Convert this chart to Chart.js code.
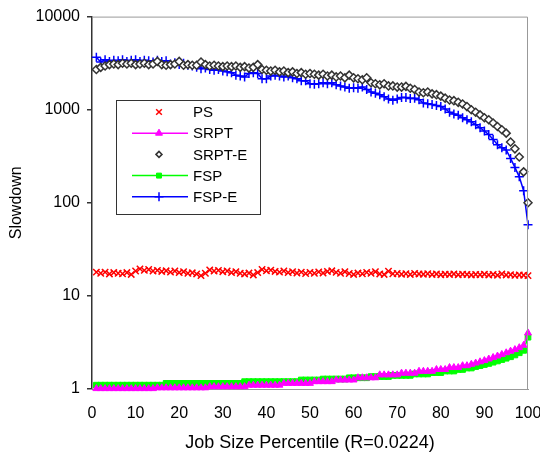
<!DOCTYPE html>
<html>
<head>
<meta charset="utf-8">
<script src="https://cdn.jsdelivr.net/npm/chart.js@4/dist/chart.umd.min.js"></script>
<style>
	html, body { margin: 0; padding: 0; background: #fff; }
	#main_chart { display: block; }
</style>
</head>
<body>
<canvas id="main_chart" width="540" height="457"></canvas>
<script>
// job size percentiles (x)
const percentiles = [
	1, 2, 3, 4, 5, 6, 7, 8, 9, 10,
	11, 12, 13, 14, 15, 16, 17, 18, 19, 20,
	21, 22, 23, 24, 25, 26, 27, 28, 29, 30,
	31, 32, 33, 34, 35, 36, 37, 38, 39, 40,
	41, 42, 43, 44, 45, 46, 47, 48, 49, 50,
	51, 52, 53, 54, 55, 56, 57, 58, 59, 60,
	61, 62, 63, 64, 65, 66, 67, 68, 69, 70,
	71, 72, 73, 74, 75, 76, 77, 78, 79, 80,
	81, 82, 83, 84, 85, 86, 87, 88, 89, 90,
	91, 92, 93, 94, 95, 96, 97, 98, 99, 100,
]

const psValues = [
	18.0, 17.5, 18.0, 17.2, 17.8, 17.5, 17.3, 17.8, 17.0, 18.5,
	19.5, 18.8, 19.2, 18.5, 18.8, 18.3, 18.6, 18.0, 18.5, 17.8,
	18.2, 17.5, 17.7, 17.2, 16.5, 17.5, 19.0, 18.5, 18.8, 18.2,
	18.5, 17.8, 18.2, 17.5, 17.2, 17.6, 16.8, 17.8, 19.2, 18.6,
	18.9, 18.3, 18.0, 18.5, 17.8, 18.2, 17.6, 18.0, 17.4, 17.9,
	17.5, 18.1, 17.6, 18.3, 18.6, 17.9, 17.5, 18.2, 17.4, 17.0,
	17.6, 17.3, 17.9, 17.5, 18.2, 17.2, 17.0, 18.4, 17.3, 17.4,
	17.1, 17.3, 17.0, 17.4, 17.2, 17.1, 17.3, 17.0, 17.2, 16.9,
	17.1, 17.0, 17.2, 16.9, 17.1, 17.0, 16.8, 17.0, 16.9, 17.1,
	16.8, 17.0, 16.7, 17.2, 16.8, 16.9, 16.6, 16.8, 16.7, 16.5,
]

const srptValues = [
	1.01, 1.01, 1.01, 1.01, 1.01, 1.01, 1.01, 1.01, 1.01, 1.01,
	1.01, 1.01, 1.01, 1.01, 1.03, 1.03, 1.03, 1.03, 1.03, 1.03,
	1.03, 1.03, 1.03, 1.03, 1.03, 1.03, 1.06, 1.06, 1.06, 1.06,
	1.06, 1.06, 1.06, 1.06, 1.06, 1.10, 1.10, 1.10, 1.10, 1.10,
	1.10, 1.10, 1.10, 1.15, 1.15, 1.15, 1.15, 1.15, 1.15, 1.15,
	1.20, 1.20, 1.20, 1.20, 1.20, 1.25, 1.25, 1.25, 1.25, 1.25,
	1.32, 1.32, 1.32, 1.32, 1.32, 1.42, 1.42, 1.42, 1.42, 1.42,
	1.48, 1.48, 1.48, 1.48, 1.55, 1.55, 1.55, 1.55, 1.62, 1.62,
	1.62, 1.70, 1.70, 1.70, 1.78, 1.78, 1.84, 1.90, 1.96, 2.02,
	2.10, 2.18, 2.26, 2.35, 2.45, 2.55, 2.65, 2.78, 2.95, 4.00,
]

const srptEValues = [
	2700, 2850, 2950, 3050, 3100, 3050, 3150, 3100, 3150, 3050,
	3100, 3150, 3050, 3100, 3300, 3050, 3000, 3050, 3100, 3300,
	3000, 3050, 3000, 3000, 3250, 3050, 2950, 3000, 2950, 2900,
	2950, 2900, 2950, 2850, 2900, 2800, 2850, 3050, 2700, 2650,
	2600, 2650, 2550, 2600, 2500, 2550, 2450, 2500, 2400, 2450,
	2400, 2350, 2400, 2300, 2350, 2250, 2300, 2200, 2350, 2200,
	2150, 2100, 2200, 1950, 1900, 1850, 1900, 1800, 1800, 1750,
	1750, 1780, 1700, 1650, 1550, 1520, 1550, 1480, 1450, 1400,
	1330, 1270, 1250, 1200, 1150, 1080, 1000, 940, 880, 820,
	780, 720, 660, 610, 560, 450, 380, 310, 215, 100,
]

const fspValues = [
	1.10, 1.10, 1.10, 1.10, 1.10, 1.10, 1.10, 1.10, 1.10, 1.10,
	1.10, 1.10, 1.10, 1.10, 1.10, 1.10, 1.15, 1.15, 1.15, 1.15,
	1.15, 1.15, 1.15, 1.15, 1.15, 1.15, 1.15, 1.15, 1.15, 1.15,
	1.15, 1.15, 1.15, 1.15, 1.20, 1.20, 1.20, 1.20, 1.20, 1.20,
	1.20, 1.20, 1.20, 1.20, 1.20, 1.20, 1.20, 1.25, 1.25, 1.25,
	1.25, 1.25, 1.28, 1.28, 1.28, 1.28, 1.28, 1.28, 1.32, 1.32,
	1.32, 1.32, 1.32, 1.36, 1.36, 1.36, 1.36, 1.36, 1.40, 1.40,
	1.40, 1.40, 1.40, 1.45, 1.45, 1.45, 1.45, 1.50, 1.50, 1.50,
	1.56, 1.56, 1.56, 1.62, 1.62, 1.68, 1.68, 1.74, 1.78, 1.83,
	1.88, 1.94, 2.00, 2.07, 2.14, 2.22, 2.32, 2.45, 2.60, 3.60,
]

const fspEValues = [
	3650, 3250, 3450, 3300, 3400, 3350, 3450, 3300, 3400, 3450,
	3300, 3400, 3350, 3250, 3400, 3300, 3350, 3100, 3200, 3050,
	3150, 3000, 2950, 2850, 2750, 2800, 2700, 2650, 2700, 2600,
	2550, 2500, 2350, 2300, 2250, 2450, 2500, 2450, 2150, 2150,
	2300, 2350, 2300, 2250, 2300, 2200, 2150, 2050, 2050, 1900,
	1880, 1900, 1950, 1900, 1950, 1850, 1800, 1750, 1700, 1720,
	1700, 1750, 1650, 1550, 1500, 1450, 1380, 1300, 1260, 1300,
	1350, 1350, 1320, 1330, 1280, 1180, 1160, 1140, 1110, 1080,
	1020, 940, 900, 870, 820, 780, 740, 690, 640, 590,
	540, 480, 420, 390, 370, 300, 240, 190, 135, 58,
]

const seriesNames = ['PS', 'SRPT', 'SRPT-E', 'FSP', 'FSP-E']
const yTicks = [1, 10, 100, 1000, 10000]
const xTicks = [0, 10, 20, 30, 40, 50, 60, 70, 80, 90, 100]

const fontFamily = '"Liberation Sans", Arial, sans-serif'

// pair each value with its percentile
function toPoints(values) {
	return values.map((v, i) => ({ x: percentiles[i], y: v }))
}

// box on top and right of the plot, plus the legend inside it
const frameAndLegend = {
	id: 'frameAndLegend',
	afterDraw(chart) {
		const { ctx, chartArea: a } = chart
		ctx.save()
		ctx.strokeStyle = '#999'
		ctx.lineWidth = 1
		ctx.beginPath()
		ctx.moveTo(a.left, a.top + 0.5)
		ctx.lineTo(a.right - 0.5, a.top + 0.5)
		ctx.lineTo(a.right - 0.5, a.bottom)
		ctx.stroke()

		// legend box
		const box = { x: 116.5, y: 100.5, w: 144, h: 114 }
		ctx.fillStyle = '#fff'
		ctx.fillRect(box.x, box.y, box.w, box.h)
		ctx.strokeStyle = '#333'
		ctx.strokeRect(box.x, box.y, box.w, box.h)

		ctx.font = `15px ${fontFamily}`
		ctx.textBaseline = 'middle'
		ctx.textAlign = 'left'
		chart.data.datasets.forEach((ds, k) => {
			const y = 112 + k * 21.2
			if (ds.showLine) {
				ctx.strokeStyle = ds.borderColor
				ctx.lineWidth = ds.borderWidth
				ctx.beginPath()
				ctx.moveTo(132, y)
				ctx.lineTo(188, y)
				ctx.stroke()
			}
			ctx.fillStyle = ds.pointBackgroundColor
			ctx.strokeStyle = ds.pointBorderColor
			ctx.lineWidth = ds.pointBorderWidth
			Chart.helpers.drawPoint(ctx, {
				pointStyle: ds.pointStyle,
				radius: ds.legendRadius,
				borderWidth: ds.pointBorderWidth,
				rotation: 0,
			}, 159, y)
			ctx.fillStyle = '#000'
			ctx.fillText(ds.label, 193, y + 1)
		})
		ctx.restore()
	},
}

const ctx = document.getElementById('main_chart')

new Chart(ctx, {
	type: 'line',
	data: {
		datasets: [
			{
				label: seriesNames[0],
				data: toPoints(psValues),
				showLine: false,
				borderColor: '#ff0000',
				pointStyle: 'crossRot',
				pointRadius: 4.5,
				legendRadius: 4,
				pointBorderWidth: 1.5,
				pointBackgroundColor: '#ff0000',
				pointBorderColor: '#ff0000',
			},
			{
				label: seriesNames[1],
				data: toPoints(srptValues),
				showLine: true,
				borderColor: '#ff00ff',
				borderWidth: 1.5,
				pointStyle: 'triangle',
				pointRadius: 4,
				legendRadius: 4,
				pointBorderWidth: 1,
				pointBackgroundColor: '#ff00ff',
				pointBorderColor: '#ff00ff',
			},
			{
				label: seriesNames[2],
				data: toPoints(srptEValues),
				showLine: false,
				borderColor: '#333',
				pointStyle: 'rectRot',
				pointRadius: 4,
				legendRadius: 3,
				pointBorderWidth: 1.5,
				pointBackgroundColor: '#fff',
				pointBorderColor: '#333',
			},
			{
				label: seriesNames[3],
				data: toPoints(fspValues),
				showLine: true,
				borderColor: '#00ff00',
				borderWidth: 1.5,
				pointStyle: 'rect',
				pointRadius: 4,
				legendRadius: 3.5,
				pointBorderWidth: 1,
				pointBackgroundColor: '#00ff00',
				pointBorderColor: '#00ff00',
			},
			{
				label: seriesNames[4],
				data: toPoints(fspEValues),
				showLine: true,
				borderColor: '#0000ff',
				borderWidth: 1.5,
				pointStyle: 'cross',
				pointRadius: 4.5,
				legendRadius: 4.5,
				pointBorderWidth: 1.5,
				pointBackgroundColor: '#0000ff',
				pointBorderColor: '#0000ff',
			},
		],
	},
	options: {
		responsive: false,
		animation: false,
		clip: false,
		elements: { line: { tension: 0 } },
		layout: { padding: { left: 0, right: 12, top: 16, bottom: 0 } },
		scales: {
			x: {
				type: 'linear',
				min: 0,
				max: 100,
				afterBuildTicks(scale) {
					scale.ticks = xTicks.map(v => ({ value: v }))
				},
				ticks: {
					padding: 15,
					maxRotation: 0,
					color: '#000',
					font: { family: fontFamily, size: 16 },
				},
				grid: { display: false, drawTicks: false },
				border: { color: '#999', width: 1 },
				title: {
					display: true,
					text: 'Job Size Percentile (R=0.0224)',
					color: '#000',
					font: { family: fontFamily, size: 18, lineHeight: 1 },
					padding: { top: 0, bottom: 5 },
				},
				afterFit(scale) {
					scale.height = 68
					scale.paddingLeft = 0
					scale.paddingRight = 0
				},
			},
			y: {
				type: 'logarithmic',
				min: 1,
				max: 10000,
				afterBuildTicks(scale) {
					scale.ticks = yTicks.map(v => ({ value: v }))
				},
				ticks: {
					padding: 7,
					color: '#000',
					font: { family: fontFamily, size: 16 },
					callback: v => String(v),
				},
				grid: { drawOnChartArea: false, tickLength: 5, color: '#333', lineWidth: 1.5 },
				border: { color: '#333', width: 1.5 },
				title: {
					display: true,
					text: 'Slowdown',
					color: '#000',
					font: { family: fontFamily, size: 16, lineHeight: 1 },
					padding: { top: 9, bottom: 0 },
				},
				afterFit(scale) {
					scale.width = 92
				},
			},
		},
		plugins: {
			legend: { display: false },
			tooltip: { enabled: false },
		},
	},
	plugins: [frameAndLegend],
})
</script>
</body>
</html>
